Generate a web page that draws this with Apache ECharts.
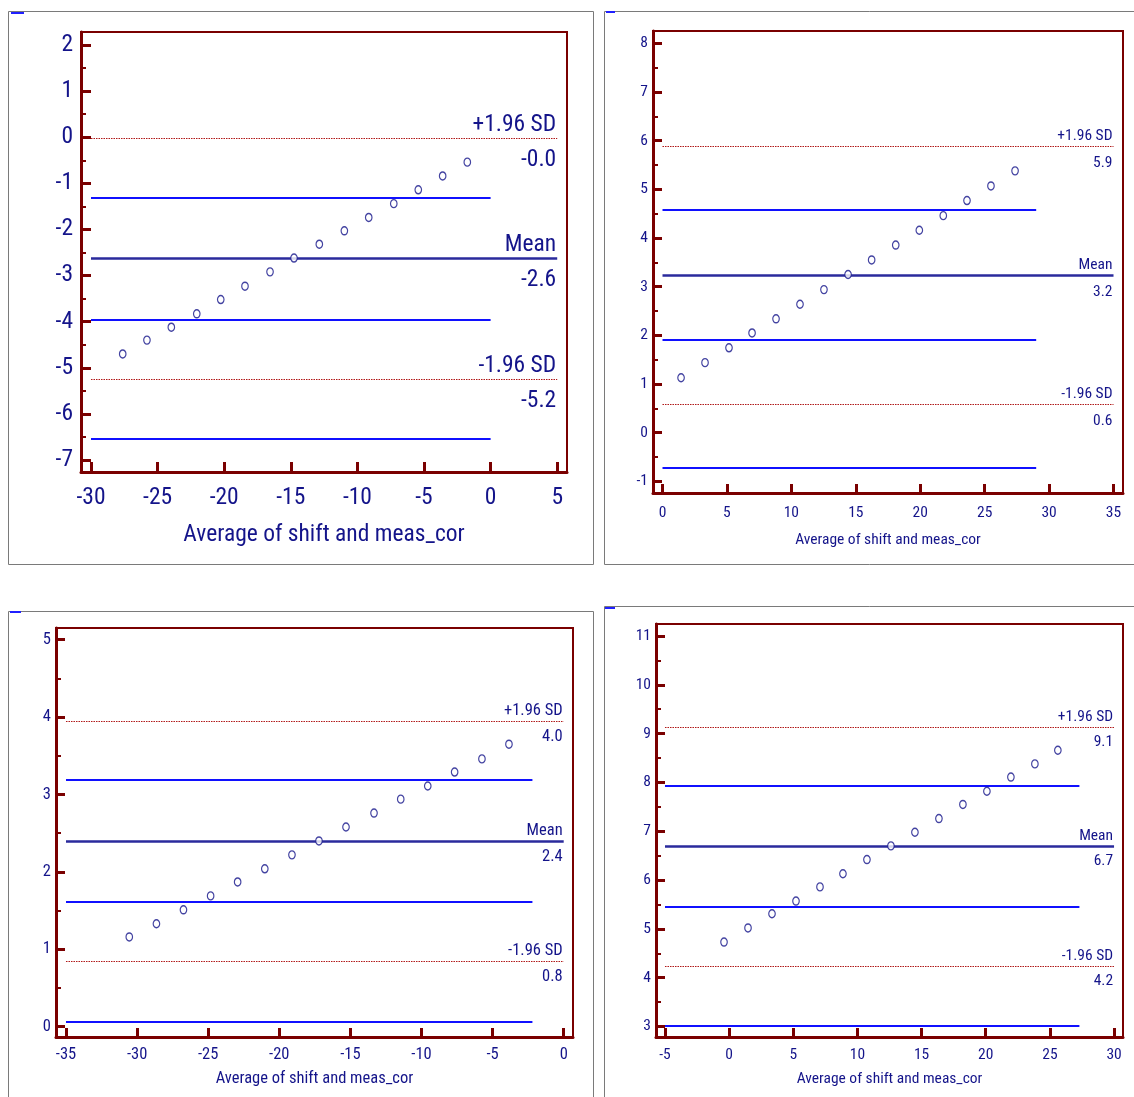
<!DOCTYPE html>
<html><head><meta charset="utf-8">
<script src="https://cdn.jsdelivr.net/npm/echarts@6/dist/echarts.min.js"></script>
<style>html,body{margin:0;padding:0;background:#fff}#c{width:1134px;height:1097px}</style>
</head><body><div id="c"></div><script>
// ---------- DATA ----------
const xTitle = 'Average of shift and meas_cor';
const refNames = ['+1.96 SD', 'Mean', '-1.96 SD'];

// Panel 1 (top-left)
const p1X = [-27.62, -25.80, -23.97, -22.06, -20.26, -18.44, -16.56, -14.76, -12.86, -10.98, -9.15, -7.27, -5.43, -3.60, -1.75];
const p1Y = [-4.70, -4.40, -4.12, -3.83, -3.52, -3.23, -2.92, -2.62, -2.32, -2.03, -1.74, -1.44, -1.14, -0.84, -0.54];
const p1Ref = [-0.02, -2.63, -5.25];
const p1RefLabels = ['-0.0', '-2.6', '-5.2'];
const p1Blue = [-1.31, -3.95, -6.53];
const p1RefSpan = [-30, 5];
const p1BlueSpan = [-30, 0];
const p1XTicks = [-30, -25, -20, -15, -10, -5, 0, 5];
const p1YTicks = [-7, -6, -5, -4, -3, -2, -1, 0, 1, 2];

// Panel 2 (top-right)
const p2X = [1.44, 3.30, 5.16, 6.95, 8.81, 10.67, 12.53, 14.40, 16.23, 18.10, 19.93, 21.79, 23.63, 25.49, 27.36];
const p2Y = [1.13, 1.44, 1.745, 2.05, 2.34, 2.64, 2.94, 3.25, 3.55, 3.855, 4.16, 4.46, 4.77, 5.07, 5.38];
const p2Ref = [5.89, 3.24, 0.59];
const p2RefLabels = ['5.9', '3.2', '0.6'];
const p2Blue = [4.59, 1.90, -0.71];
const p2RefSpan = [0, 35];
const p2BlueSpan = [0, 29];
const p2XTicks = [0, 5, 10, 15, 20, 25, 30, 35];
const p2YTicks = [-1, 0, 1, 2, 3, 4, 5, 6, 7, 8];

// Panel 3 (bottom-left)
const p3X = [-30.55, -28.64, -26.74, -24.83, -22.93, -21.02, -19.11, -17.21, -15.31, -13.34, -11.46, -9.56, -7.67, -5.75, -3.85];
const p3Y = [1.16, 1.33, 1.51, 1.69, 1.87, 2.04, 2.22, 2.40, 2.58, 2.76, 2.94, 3.11, 3.29, 3.46, 3.65];
const p3Ref = [3.95, 2.39, 0.845];
const p3RefLabels = ['4.0', '2.4', '0.8'];
const p3Blue = [3.19, 1.61, 0.07];
const p3RefSpan = [-35, 0];
const p3BlueSpan = [-35, -2.2];
const p3XTicks = [-35, -30, -25, -20, -15, -10, -5, 0];
const p3YTicks = [0, 1, 2, 3, 4, 5];

// Panel 4 (bottom-right)
const p4X = [-0.40, 1.47, 3.34, 5.21, 7.08, 8.87, 10.74, 12.61, 14.48, 16.35, 18.22, 20.09, 21.96, 23.83, 25.62];
const p4Y = [4.73, 5.02, 5.31, 5.57, 5.86, 6.13, 6.42, 6.70, 6.98, 7.26, 7.55, 7.82, 8.11, 8.38, 8.66];
const p4Ref = [9.14, 6.70, 4.24];
const p4RefLabels = ['9.1', '6.7', '4.2'];
const p4Blue = [7.93, 5.45, 3.02];
const p4RefSpan = [-5, 30];
const p4BlueSpan = [-5, 27.3];
const p4XTicks = [-5, 0, 5, 10, 15, 20, 25, 30];
const p4YTicks = [3, 4, 5, 6, 7, 8, 9, 10, 11];

// ---------- LAYOUT / STYLE ----------
const FONT = "'Roboto Condensed', 'Liberation Sans', Arial, sans-serif";
const NAVY = '#14148a';
const MAROON = '#7a0000';
const BLUE = '#1010ff';
const MEANC = '#2a2a9c';
const DOTC = '#b01818';

const panels = [
  {x: p1X, y: p1Y, ref: p1Ref, refLab: p1RefLabels, blue: p1Blue, refSpan: p1RefSpan, blueSpan: p1BlueSpan, xt: p1XTicks, yt: p1YTicks,
   grid: {left: 81, top: 32, width: 486, height: 440}, xr: [-30.751, 5.735], yr: [-7.260, 2.282],
   fs: 23.5, tfs: 23.5, ylm: 8, xlm: 14, gap: 51, tl: 10, ml: 5, dTop: 1, dBot: 10, sym: [6.5, 8]},
  {x: p2X, y: p2Y, ref: p2Ref, refLab: p2RefLabels, blue: p2Blue, refSpan: p2RefSpan, blueSpan: p2BlueSpan, xt: p2XTicks, yt: p2YTicks,
   grid: {left: 653, top: 31, width: 470, height: 462}, xr: [-0.737, 35.737], yr: [-1.238, 8.253],
   fs: 15.5, tfs: 15.5, ylm: 5, xlm: 12, gap: 39, tl: 9, ml: 5, dTop: 2, dBot: 9, sym: [6.5, 8]},
  {x: p3X, y: p3Y, ref: p3Ref, refLab: p3RefLabels, blue: p3Blue, refSpan: p3RefSpan, blueSpan: p3BlueSpan, xt: p3XTicks, yt: p3YTicks,
   grid: {left: 56, top: 628, width: 517, height: 409}, xr: [-35.703, 0.654], yr: [-0.133, 5.151],
   fs: 16.5, tfs: 16.5, ylm: 5, xlm: 9, gap: 33, tl: 9, ml: 5, dTop: 2, dBot: 7, sym: [6.5, 8]},
  {x: p4X, y: p4Y, ref: p4Ref, refLab: p4RefLabels, blue: p4Blue, refSpan: p4RefSpan, blueSpan: p4BlueSpan, xt: p4XTicks, yt: p4YTicks,
   grid: {left: 656, top: 624, width: 467, height: 413}, xr: [-5.701, 30.698], yr: [2.785, 11.246],
   fs: 15.5, tfs: 15.5, ylm: 5, xlm: 10, gap: 34, tl: 9, ml: 5, dTop: 2, dBot: 7, sym: [6.5, 8]}
];

const grids = [], xAxes = [], yAxes = [], series = [];
panels.forEach((p, i) => {
  grids.push(Object.assign({show: true, borderColor: MAROON, borderWidth: 2, backgroundColor: 'transparent'}, p.grid));
  xAxes.push({
    type: 'value', gridIndex: i, min: p.xr[0], max: p.xr[1],
    axisLine: {show: true, onZero: false, lineStyle: {color: MAROON, width: 3}},
    axisTick: {show: true, inside: true, length: p.tl, customValues: p.xt, lineStyle: {color: MAROON, width: 3}},
    axisLabel: {show: true, customValues: p.xt, color: NAVY, fontSize: p.fs, fontFamily: FONT, margin: p.xlm},
    splitLine: {show: false},
    name: xTitle, nameLocation: 'middle', nameGap: p.gap,
    nameTextStyle: {color: NAVY, fontSize: p.tfs, fontFamily: FONT}
  });
  const halves = [];
  for (let k = 0; k < p.yt.length - 1; k++) halves.push(p.yt[k] + 0.5);
  yAxes.push({
    type: 'value', gridIndex: i, min: p.yr[0], max: p.yr[1], position: 'left',
    axisLine: {show: true, onZero: false, lineStyle: {color: MAROON, width: 3}},
    axisTick: {show: true, inside: true, length: p.tl, customValues: p.yt, lineStyle: {color: MAROON, width: 3}},
    axisLabel: {show: true, customValues: p.yt, color: NAVY, fontSize: p.fs, fontFamily: FONT, margin: p.ylm},
    splitLine: {show: false}
  });
  yAxes.push({
    type: 'value', gridIndex: i, min: p.yr[0], max: p.yr[1], position: 'left',
    axisLine: {show: false, onZero: false},
    axisTick: {show: true, inside: true, length: p.ml, customValues: halves, lineStyle: {color: MAROON, width: 2}},
    axisLabel: {show: false},
    splitLine: {show: false}
  });
  const lab = (txt, pos, dist) => ({show: true, formatter: txt, position: pos, distance: [1, dist], color: NAVY, fontSize: p.fs, fontFamily: FONT, opacity: 1});
  const mlData = [];
  p.blue.forEach(v => {
    mlData.push([{coord: [p.blueSpan[0], v], lineStyle: {color: BLUE, width: 2, type: 'solid'}, label: {show: false}}, {coord: [p.blueSpan[1], v]}]);
  });
  p.ref.forEach((v, k) => {
    const isMean = k === 1;
    const ls = isMean ? {color: MEANC, width: 2.5, type: 'solid'} : {color: DOTC, width: 1, type: [1.5, 1]};
    mlData.push([{coord: [p.refSpan[0], v], lineStyle: ls, label: lab(refNames[k], 'insideEndTop', p.dTop)}, {coord: [p.refSpan[1], v]}]);
    mlData.push([{coord: [p.refSpan[0], v], lineStyle: {color: 'rgba(255,255,255,0)', width: 1, type: 'solid'}, label: lab(p.refLab[k], 'insideEndBottom', p.dBot)}, {coord: [p.refSpan[1], v]}]);
  });
  series.push({
    type: 'scatter', xAxisIndex: i, yAxisIndex: 2 * i,
    data: p.x.map((xv, k) => [xv, p.y[k]]),
    symbol: 'circle', symbolSize: p.sym,
    itemStyle: {color: '#fff', borderColor: NAVY, borderWidth: 1.3},
    z: 5,
    markLine: {silent: true, symbol: ['none', 'none'], animation: false, data: mlData, z: 3}
  });
});

const frameRect = (x, y, w, h) => ({type: 'rect', shape: {x: x, y: y, width: w, height: h}, style: {fill: 'none', stroke: '#7a7a7a', lineWidth: 1}, silent: true});
const dash = (x, y, w) => ({type: 'rect', shape: {x: x, y: y, width: w, height: 2}, style: {fill: '#2020ff'}, silent: true});

const chart = echarts.init(document.getElementById('c'), null, {renderer: 'canvas'});
chart.setOption({
  animation: false,
  backgroundColor: '#fff',
  textStyle: {fontFamily: FONT},
  graphic: [
    frameRect(8.5, 11.5, 585, 553), frameRect(604.5, 11.5, 560, 553),
    frameRect(8.5, 611.5, 585, 520), frameRect(604.5, 606.5, 560, 520),
    dash(11, 12, 13), dash(606, 11, 9), dash(10, 611, 11), dash(605, 607, 10)
  ],
  grid: grids, xAxis: xAxes, yAxis: yAxes, series: series
});
</script></body></html>
